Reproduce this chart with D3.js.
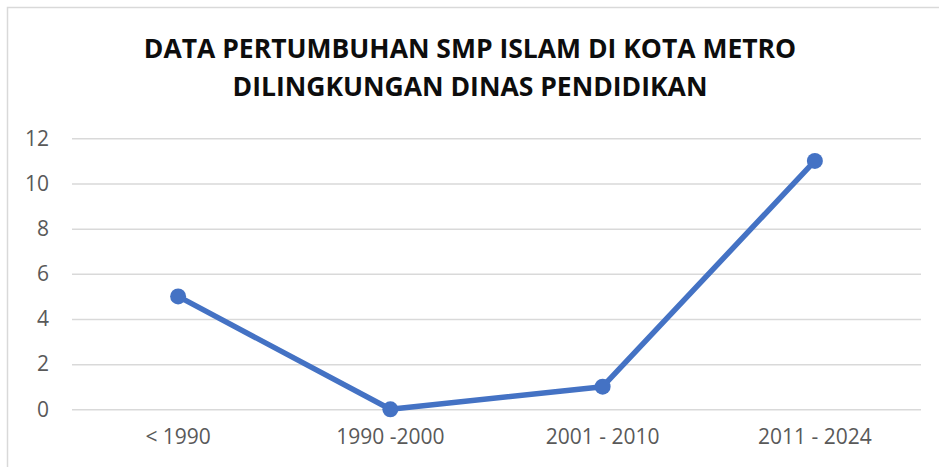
<!DOCTYPE html>
<html><head><meta charset="utf-8">
<script src="https://cdn.jsdelivr.net/npm/d3@7/dist/d3.min.js"></script>
<style>body{margin:0;background:#fff;}svg{display:block;}</style>
</head><body><svg id="c" width="939" height="467"></svg>
<script>
const categories = ["< 1990", "1990 -2000", "2001 - 2010", "2011 - 2024"];
const values = [5, 0, 1, 11];
const yTicks = [0, 2, 4, 6, 8, 10, 12];
const titleLines = ["DATA PERTUMBUHAN SMP ISLAM DI KOTA METRO", "DILINGKUNGAN DINAS PENDIDIKAN"];

const svg = d3.select("#c");
const font = "'Open Sans', 'Noto Sans', sans-serif";
// chart border
svg.append("rect").attr("x", 7.5).attr("y", 7.5).attr("width", 960).attr("height", 480)
  .attr("fill", "#fff").attr("stroke", "#d9d9d9").attr("stroke-width", 1.5);

const m = {left: 72, right: 921, top: 138.3, bottom: 409.3};
const x = d3.scaleBand().domain(categories).range([m.left, m.right]);
const y = d3.scaleLinear().domain([0, 12]).range([m.bottom, m.top]);

svg.append("g").selectAll("text").data(titleLines).join("text")
  .attr("x", 470).attr("y", (d, i) => 58 + i * 38)
  .attr("text-anchor", "middle").attr("font-family", font).attr("font-weight", "bold")
  .attr("font-size", 26.5).attr("fill", "#0d0d0d").text(d => d);

const yAxis = d3.axisLeft(y).tickValues(yTicks).tickSize(-(m.right - m.left)).tickPadding(23);
const gy = svg.append("g").attr("transform", `translate(${m.left},0)`).call(yAxis);
gy.select(".domain").remove();
gy.selectAll(".tick line").attr("stroke", "#d9d9d9").attr("stroke-width", 1.5);
gy.selectAll(".tick text").attr("font-family", font).attr("font-size", 21).attr("fill", "#595959");

const xAxis = d3.axisBottom(x).tickSize(0).tickPadding(20);
const gx = svg.append("g").attr("transform", `translate(0,${m.bottom})`).call(xAxis);
gx.select(".domain").remove();
gx.selectAll(".tick text").attr("font-family", font).attr("font-size", 21).attr("fill", "#595959");

const cx = d => x(d) + x.bandwidth() / 2;
const line = d3.line().x((d, i) => cx(categories[i])).y(d => y(d));
svg.append("path").datum(values).attr("d", line).attr("fill", "none")
  .attr("stroke", "#4472C4").attr("stroke-width", 5.5).attr("stroke-linejoin", "round");
svg.append("g").selectAll("circle").data(values).join("circle")
  .attr("cx", (d, i) => cx(categories[i])).attr("cy", d => y(d)).attr("r", 8)
  .attr("fill", "#4472C4");
</script></body></html>
